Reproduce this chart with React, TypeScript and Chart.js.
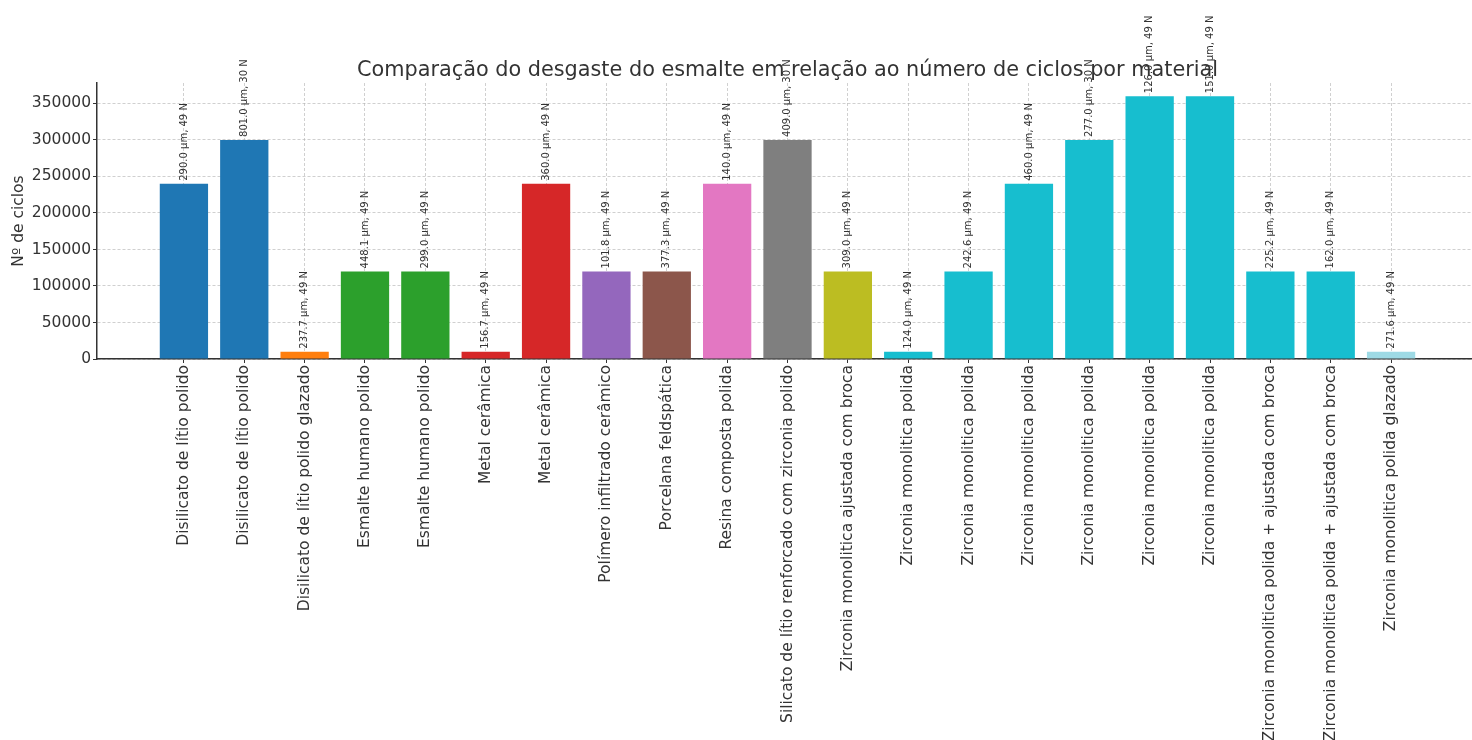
import React, { useEffect, useRef } from "react";
import { Chart, registerables } from "chart.js";

Chart.register(...registerables);

// Materials tested, one bar each
const materials = [
  "Disilicato de lítio polido",
  "Disilicato de lítio polido",
  "Disilicato de lítio polido glazado",
  "Esmalte humano polido",
  "Esmalte humano polido",
  "Metal cerâmica",
  "Metal cerâmica",
  "Polímero infiltrado cerâmico",
  "Porcelana feldspática",
  "Resina composta polida",
  "Silicato de lítio renforcado com zirconia polido",
  "Zirconia monolitica ajustada com broca",
  "Zirconia monolitica polida",
  "Zirconia monolitica polida",
  "Zirconia monolitica polida",
  "Zirconia monolitica polida",
  "Zirconia monolitica polida",
  "Zirconia monolitica polida",
  "Zirconia monolitica polida + ajustada com broca",
  "Zirconia monolitica polida + ajustada com broca",
  "Zirconia monolitica polida glazado",
];

// Number of chewing cycles per test
const cycles = [
  240000, 300000, 10000, 120000, 120000, 10000, 240000, 120000, 120000, 240000,
  300000, 120000, 10000, 120000, 240000, 300000, 360000, 360000, 120000, 120000,
  10000,
];

// Enamel wear (µm) and applied load (N) shown above each bar
const wearMicrons = [
  290.0, 801.0, 237.7, 448.1, 299.0, 156.7, 360.0, 101.8, 377.3, 140.0, 409.0,
  309.0, 124.0, 242.6, 460.0, 277.0, 126.0, 151.0, 225.2, 162.0, 271.6,
];
const loadsN = [
  49, 30, 49, 49, 49, 49, 49, 49, 49, 49, 30, 49, 49, 49, 49, 30, 49, 49, 49, 49,
  49,
];

const barColors = [
  "#1f77b4", "#1f77b4", "#ff7f0e", "#2ca02c", "#2ca02c", "#d62728", "#d62728",
  "#9467bd", "#8c564b", "#e377c2", "#7f7f7f", "#bcbd22", "#17becf", "#17becf",
  "#17becf", "#17becf", "#17becf", "#17becf", "#17becf", "#17becf", "#9edae5",
];

const yTickValues = [0, 50000, 100000, 150000, 200000, 250000, 300000, 350000];

const chartTitle =
  "Comparação do desgaste do esmalte em relação ao número de ciclos por material";
const yTitle = "Nº de ciclos";

const FONT = "DejaVu Sans";
const TEXT = "#333333";

export default function App() {
  const canvasRef = useRef<HTMLCanvasElement>(null);

  useEffect(() => {
    const canvas = canvasRef.current;
    if (!canvas) return;

    const n = cycles.length;
    // 0.8-wide bars with a 5% margin on both sides of the data range
    const span = n - 1 + 0.8;
    const xMin = -0.4 - 0.05 * span;
    const xMax = n - 1 + 0.4 + 0.05 * span;
    const yMax = Math.max(...cycles) * 1.05;

    const textOverlay = {
      id: "textOverlay",
      afterDraw(chart: any) {
        const ctx = chart.ctx as CanvasRenderingContext2D;
        const area = chart.chartArea;
        const meta = chart.getDatasetMeta(0);

        ctx.save();
        ctx.fillStyle = TEXT;
        ctx.font = `10px "${FONT}"`;
        ctx.textAlign = "left";
        ctx.textBaseline = "middle";
        meta.data.forEach((bar: any, i: number) => {
          const { x, y } = bar.getProps(["x", "y"], true);
          ctx.save();
          ctx.translate(x, y - 3);
          ctx.rotate(-Math.PI / 2);
          ctx.fillText(`${wearMicrons[i].toFixed(1)} µm, ${loadsN[i]} N`, 0, 0);
          ctx.restore();
        });

        ctx.font = `20.8px "${FONT}"`;
        ctx.textAlign = "center";
        ctx.textBaseline = "alphabetic";
        ctx.fillText(chartTitle, (area.left + area.right) / 2, 76);
        ctx.restore();
      },
    };

    const chart = new Chart(canvas, {
      type: "bar",
      data: {
        datasets: [
          {
            data: cycles.map((c, i) => ({ x: i, y: c })),
            backgroundColor: barColors,
            borderWidth: 0,
            barPercentage: 0.8,
            categoryPercentage: 1,
          },
        ],
      },
      options: {
        responsive: false,
        animation: false,
        devicePixelRatio: 1,
        layout: { padding: { top: 83, right: 2, bottom: 0, left: 0 } },
        plugins: {
          legend: { display: false },
          tooltip: { enabled: false },
          title: { display: false },
        },
        scales: {
          x: {
            type: "linear",
            min: xMin,
            max: xMax,
            offset: false,
            z: 1,
            afterBuildTicks: (scale: any) => {
              scale.ticks = materials.map((_, i) => ({ value: i }));
            },
            afterFit: (scale: any) => {
              scale.height = 381;
            },
            grid: {
              offset: false,
              color: "rgba(176,176,176,0.75)",
              lineWidth: 0.8,
              drawTicks: true,
              tickLength: 4,
              tickColor: "#333333",
              tickWidth: 1,
              tickBorderDash: [],
            },
            border: { display: true, color: "#333333", width: 1.5, dash: [3, 2] },
            ticks: {
              autoSkip: false,
              minRotation: 90,
              maxRotation: 90,
              padding: 2,
              color: TEXT,
              font: { family: FONT, size: 15.5 },
              callback: (v: any) => materials[Number(v)] ?? "",
            },
          },
          y: {
            type: "linear",
            min: 0,
            max: yMax,
            z: 1,
            afterBuildTicks: (scale: any) => {
              scale.ticks = yTickValues.map((v) => ({ value: v }));
            },
            afterFit: (scale: any) => {
              scale.width = 97;
            },
            grid: {
              color: "rgba(176,176,176,0.75)",
              lineWidth: 0.8,
              drawTicks: true,
              tickLength: 4,
              tickColor: "#333333",
              tickWidth: 1,
              tickBorderDash: [],
            },
            border: { display: true, color: "#333333", width: 1.5, dash: [3, 2] },
            ticks: {
              padding: 2,
              color: TEXT,
              font: { family: FONT, size: 15.5 },
              callback: (v: any) => String(v),
            },
            title: {
              display: true,
              text: yTitle,
              color: TEXT,
              font: { family: FONT, size: 15.5 },
              padding: { top: 10, bottom: 0 },
            },
          },
        },
      },
      plugins: [textOverlay],
    });

    return () => chart.destroy();
  }, []);

  return (
    <div
      style={{
        position: "fixed",
        left: 0,
        top: 0,
        width: 1472,
        height: 740,
        overflow: "hidden",
        background: "#ffffff",
      }}
    >
      <canvas ref={canvasRef} width={1480} height={740} style={{ display: "block" }} />
    </div>
  );
}
